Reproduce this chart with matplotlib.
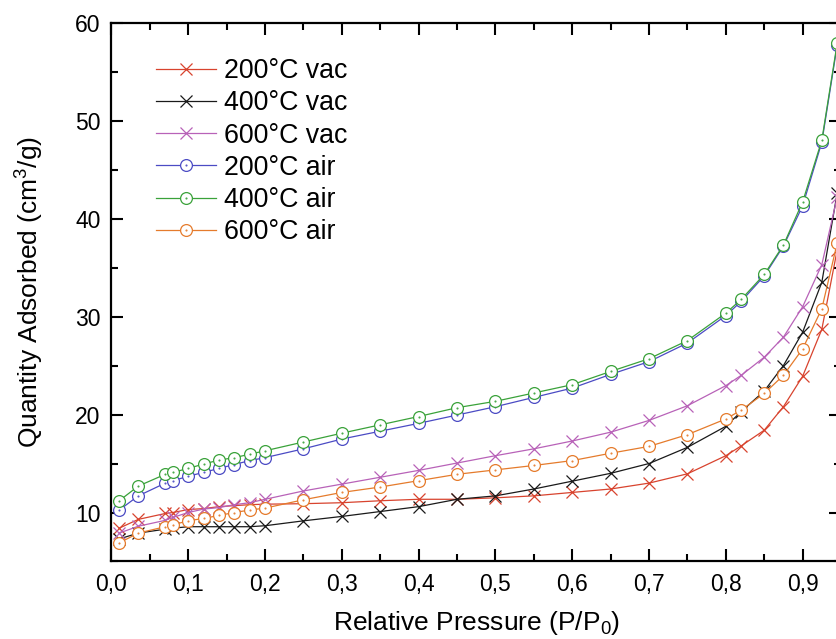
import matplotlib
matplotlib.use('Agg')
import matplotlib.pyplot as plt
from matplotlib.path import Path
from matplotlib.ticker import FuncFormatter, MultipleLocator

plt.rcParams['font.family'] = ['Liberation Sans', 'DejaVu Sans']
plt.rcParams['mathtext.fontset'] = 'custom'
plt.rcParams['mathtext.rm'] = 'Liberation Sans'
plt.rcParams['mathtext.it'] = 'Liberation Sans'

# relative pressure points (shared by all isotherms)
pressure = [0.01, 0.035, 0.07, 0.08, 0.10, 0.12, 0.14, 0.16, 0.18, 0.20,
            0.25, 0.30, 0.35, 0.40, 0.45, 0.50, 0.55, 0.60, 0.65, 0.70,
            0.75, 0.80, 0.82, 0.85, 0.875, 0.90, 0.925, 0.945]

vac_200 = [8.4, 9.3, 9.9, 10.0, 10.3, 10.4, 10.6, 10.7, 10.8, 10.85,
           10.9, 11.0, 11.2, 11.35, 11.35, 11.5, 11.7, 12.05, 12.4, 13.0,
           13.95, 15.8, 16.8, 18.4, 20.8, 23.9, 28.7, 36.8]
vac_400 = [7.3, 7.9, 8.3, 8.4, 8.55, 8.55, 8.55, 8.55, 8.55, 8.65,
           9.15, 9.6, 10.1, 10.6, 11.35, 11.7, 12.4, 13.2, 14.0, 15.0,
           16.65, 18.8, 20.3, 22.4, 25.0, 28.4, 33.5, 42.6]
vac_600 = [7.9, 8.6, 9.2, 9.5, 10.0, 10.35, 10.5, 10.8, 11.0, 11.35,
           12.2, 12.9, 13.6, 14.3, 15.05, 15.8, 16.5, 17.3, 18.2, 19.4,
           20.9, 22.95, 24.0, 25.85, 27.9, 31.0, 35.3, 42.2]
air_200 = [10.25, 11.7, 13.0, 13.25, 13.7, 14.1, 14.5, 14.9, 15.3, 15.6,
           16.5, 17.5, 18.3, 19.1, 19.95, 20.8, 21.75, 22.7, 24.1, 25.4,
           27.3, 30.1, 31.55, 34.15, 37.2, 41.3, 47.8, 57.7]
air_400 = [11.2, 12.7, 13.9, 14.1, 14.5, 14.95, 15.35, 15.6, 15.95, 16.3,
           17.2, 18.1, 18.95, 19.8, 20.7, 21.35, 22.2, 23.05, 24.4, 25.7,
           27.55, 30.35, 31.75, 34.3, 37.3, 41.7, 48.0, 57.9]
air_600 = [6.9, 7.9, 8.55, 8.75, 9.15, 9.4, 9.7, 10.0, 10.25, 10.45,
           11.3, 12.05, 12.6, 13.25, 13.9, 14.35, 14.8, 15.3, 16.05, 16.75,
           17.95, 19.55, 20.45, 22.15, 24.0, 26.7, 30.8, 37.5]

labels = ['200°C vac', '400°C vac', '600°C vac', '200°C air', '400°C air', '600°C air']
series = [vac_200, vac_400, vac_600, air_200, air_400, air_600]
colors = ['#d8432e', '#1a1a1a', '#b862b8', '#4b4bc4', '#3aa23a', '#e57b2c']

# open circle with a dot in the middle
dot_circle = Path.make_compound_path(Path.unit_circle(), Path.circle((0, 0), 0.07))

fig = plt.figure(figsize=(8.37, 6.39), dpi=100)
ax = fig.add_axes([0.1332, 0.1213, 0.8716, 0.8432])

for i, (lab, ys, c) in enumerate(zip(labels, series, colors)):
    if i < 3:
        ax.plot(pressure, ys, color=c, lw=0.9, marker='x', ms=8, mew=0.9, label=lab)
    else:
        ax.plot(pressure, ys, color=c, lw=0.9, marker=dot_circle, ms=8.5, mew=0.9,
                mfc='white', mec=c, label=lab)

ax.set_xlim(0, 0.95)
ax.set_ylim(5, 60)
ax.xaxis.set_major_locator(MultipleLocator(0.1))
ax.xaxis.set_minor_locator(MultipleLocator(0.05))
ax.yaxis.set_major_locator(MultipleLocator(10))
ax.yaxis.set_minor_locator(MultipleLocator(5))
ax.xaxis.set_major_formatter(FuncFormatter(lambda v, pos: f'{v:.1f}'.replace('.', ',')))
ax.yaxis.set_major_formatter(FuncFormatter(lambda v, pos: f'{v:.0f}' if v >= 10 else ''))

ax.tick_params(which='both', direction='in', top=True, right=True, width=1.5, labelsize=16.5)
ax.tick_params(which='major', length=8.4, pad=8)
ax.tick_params(which='minor', length=4.8)
for s in ax.spines.values():
    s.set_linewidth(1.6)

ax.set_xlabel('Relative Pressure (P/P$_0$)', fontsize=19, labelpad=10)
ax.set_ylabel('Quantity Adsorbed (cm$^3$/g)', fontsize=19, labelpad=21)

ax.legend(loc='upper left', bbox_to_anchor=(0.061, 0.934), frameon=False, fontsize=19.3,
          handlelength=2.25, handletextpad=0.3, labelspacing=0.23,
          borderaxespad=0, borderpad=0)

fig.savefig('out.png', dpi=100)
